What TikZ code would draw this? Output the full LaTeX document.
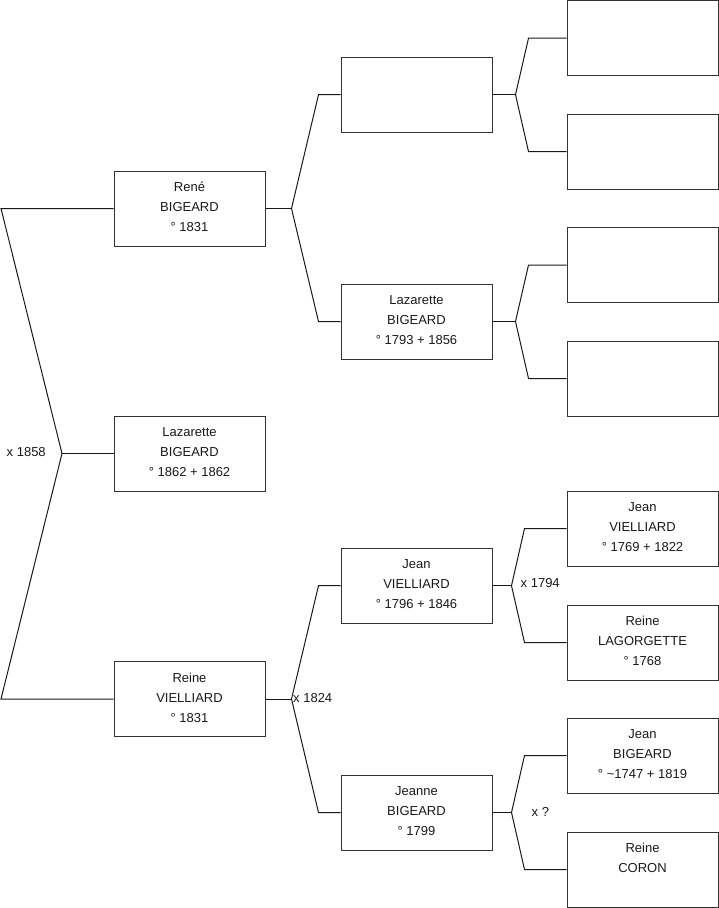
\documentclass[tikz,border=0pt]{standalone}
\usepackage{fontspec}
\setmainfont{Liberation Sans}
\usetikzlibrary{calc}
\tikzset{
  person/.style={draw=black!80, line width=1pt, minimum width=151pt, minimum height=75pt,
    inner sep=0pt, align=center, font=\fontsize{13}{20}\selectfont, text=black!90,
    execute at end node={\rule[-3pt]{0pt}{0pt}}},
  conn/.style={draw=black!90, line width=1pt},
  marr/.style={font=\fontsize{13}{16}\selectfont, anchor=west, inner sep=0pt, text=black!90}
}
\begin{document}
\begin{tikzpicture}[x=1pt,y=-1pt]
\useasboundingbox (0,0) rectangle (719,908);
% generation 1
\node[person] (r1) at (189.5,208.5) {René\\BIGEARD\\° 1831};
\node[person] (r2) at (189.5,453.5) {Lazarette\\BIGEARD\\° 1862 + 1862};
\node[person] (r3) at (189.5,699) {Reine\\VIELLIARD\\° 1831};
% generation 2
\node[person] (c1) at (416.5,94.7) {};
\node[person] (c2) at (416.5,321.5) {Lazarette\\BIGEARD\\° 1793 + 1856};
\node[person] (c3) at (416.5,585.7) {Jean\\VIELLIARD\\° 1796 + 1846};
\node[person] (c4) at (416.5,812.5) {Jeanne\\BIGEARD\\° 1799};
% generation 3
\node[person] (d1) at (642.5,38.2) {};
\node[person] (d2) at (642.5,151.5) {};
\node[person] (d3) at (642.5,265) {};
\node[person] (d4) at (642.5,378.5) {};
\node[person] (d5) at (642.5,528.5) {Jean\\VIELLIARD\\° 1769 + 1822};
\node[person] (d6) at (642.5,642.5) {Reine\\LAGORGETTE\\° 1768};
\node[person] (d7) at (642.5,755.5) {Jean\\BIGEARD\\° \textasciitilde1747 + 1819};
\node[person] (d8) at (642.5,869.5) {Reine\\CORON\\\mbox{}};
% root bracket
\coordinate (v0) at (62,453.5);
\coordinate (t0) at (1,208.5);
\coordinate (b0) at (1,699);
\draw[conn] (r1.west) -- (t0) -- (v0) -- (b0) -- (r3.west);
\draw[conn] (v0) -- (r2.west);
% generation 1 -> 2
\coordinate (v1) at ($(r1.east)+(26,0)$);
\draw[conn] (r1.east) -- (v1);
\draw[conn] (c1.west) -- ++(-22,0) -- (v1) -- ($(c2.west)+(-22,0)$) -- (c2.west);
\coordinate (v3) at ($(r3.east)+(26,0)$);
\draw[conn] (r3.east) -- (v3);
\draw[conn] (c3.west) -- ++(-22,0) -- (v3) -- ($(c4.west)+(-22,0)$) -- (c4.west);
% generation 2 -> 3
\coordinate (w1) at ($(c1.east)+(23,0)$);
\draw[conn] (c1.east) -- (w1);
\draw[conn] (d1.west) -- ++(-38,0) -- (w1) -- ($(d2.west)+(-38,0)$) -- (d2.west);
\coordinate (w2) at ($(c2.east)+(23,0)$);
\draw[conn] (c2.east) -- (w2);
\draw[conn] (d3.west) -- ++(-38,0) -- (w2) -- ($(d4.west)+(-38,0)$) -- (d4.west);
\coordinate (w3) at ($(c3.east)+(19,0)$);
\draw[conn] (c3.east) -- (w3);
\draw[conn] (d5.west) -- ++(-42,0) -- (w3) -- ($(d6.west)+(-42,0)$) -- (d6.west);
\coordinate (w4) at ($(c4.east)+(19,0)$);
\draw[conn] (c4.east) -- (w4);
\draw[conn] (d7.west) -- ++(-42,0) -- (w4) -- ($(d8.west)+(-42,0)$) -- (d8.west);
% marriage labels
\node[marr] (m1) at (6.5,452.5) {x 1858};
\node[marr] (m2) at (293,698) {x 1824};
\node[marr] (m3) at (520.5,583.5) {x 1794};
\node[marr] (m4) at (531.5,811.5) {x ?};
\end{tikzpicture}
\end{document}
